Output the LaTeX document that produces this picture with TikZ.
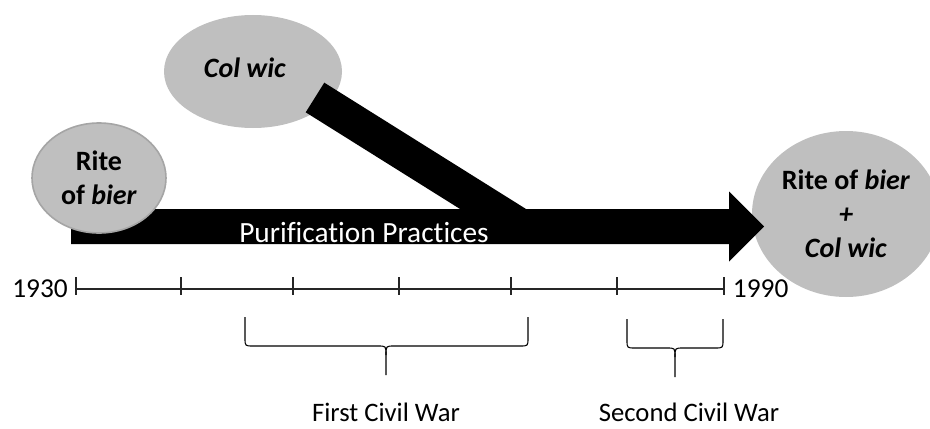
\documentclass[tikz,border=0pt]{standalone}
\usepackage{fontspec}
\setmainfont{Carlito}[Ligatures=NoCommon]
\usetikzlibrary{shapes.geometric,positioning,calc}

\begin{document}
\begin{tikzpicture}[x=0.75pt, y=-0.75pt,
  blob/.style={ellipse, fill=blobgray, inner sep=0pt, align=center,
               font=\fontsize{21}{25.5}\selectfont\bfseries},
  bar/.style={line width=26.25pt, black},
  tick/.style={line width=0.9pt, black!85},
  year/.style={inner sep=0pt, font=\fontsize{20.5}{24}\selectfont},
  war/.style={inner sep=0pt, anchor=base, font=\fontsize{20}{24}\selectfont}]

%─────────────
% Controls
%─────────────
\definecolor{blobgray}{RGB}{191,191,191}  % ellipse fill
\definecolor{blobedge}{RGB}{165,165,165}  % outline of the first ellipse
\useasboundingbox (0,0) rectangle (930,428);

%─────────────
% Ellipses behind the bars
%─────────────
\node[blob, minimum width=133.5pt, minimum height=84.75pt] (colwic) at (253,71.5) {};
\node[blob] (colwictxt) at (245,68) {\textit{Col wic}};
\node[blob, minimum width=141pt, minimum height=124.5pt] (both) at (846,214)
  {Rite of \textit{bier}\\\textit{+}\\\textit{Col wic}};

%─────────────
% Branch joining the main arrow
%─────────────
\coordinate (colwicfoot) at (315,97.5);
\coordinate (join) at (521,226.5);
\draw[bar] (colwicfoot) -- (join);

%─────────────
% Main arrow
%─────────────
\coordinate (start) at (71,226.5);     % tail, under the first ellipse
\coordinate (headbase) at (729,226.5);
\coordinate (tip) at (764,226.5);
\fill ($(start)+(0,-17.5)$) -- ($(headbase)+(0,-17.5)$) -- ($(headbase)+(0,-35)$)
  -- (tip) -- ($(headbase)+(0,35)$) -- ($(headbase)+(0,17.5)$) -- ($(start)+(0,17.5)$) -- cycle;

\node[blob, draw=blobedge, line width=1.2pt, minimum width=100.5pt, minimum height=82.5pt]
  (rite) at (99,178) {Rite\\of \textit{bier}};

\node[text=white, anchor=base, inner sep=0pt, font=\fontsize{22}{26}\selectfont]
  (purif) at (364,242) {Purification Practices};

%─────────────
% Time line
%─────────────
\foreach \x [count=\i from 0] in {76,181,293,399,511,617,724} {
  \coordinate (t\i) at (\x,289);
  \draw[tick] (\x,277) -- (\x,295);
}
\draw[tick] (t0) -- (t6);
\node[year, left=6pt of t0] (y1930) {1930};
\node[year, right=6.5pt of t6] (y1990) {1990};

%─────────────
% Braces: left x, right x, middle x, top y
%─────────────
\newcommand{\drawBrace}[4]{%
  \draw[line width=0.8pt] (#1,#4) -- (#1,{#4+21}) .. controls (#1,{#4+29}) .. ({#1+8},{#4+29})
    -- ({#3-8},{#4+29}) .. controls (#3,{#4+29}) .. (#3,{#4+38}) -- (#3,{#4+58});
  \draw[line width=0.8pt] (#2,#4) -- (#2,{#4+21}) .. controls (#2,{#4+29}) .. ({#2-8},{#4+29})
    -- ({#3+8},{#4+29}) .. controls (#3,{#4+29}) .. (#3,{#4+38});
}
\drawBrace{245}{528}{386}{317}
\drawBrace{627}{723}{675}{319}

\node[war] (firstwar) at (386,421) {First Civil War};
\node[war] (secondwar) at (689,421) {Second Civil War};

\end{tikzpicture}
\end{document}
